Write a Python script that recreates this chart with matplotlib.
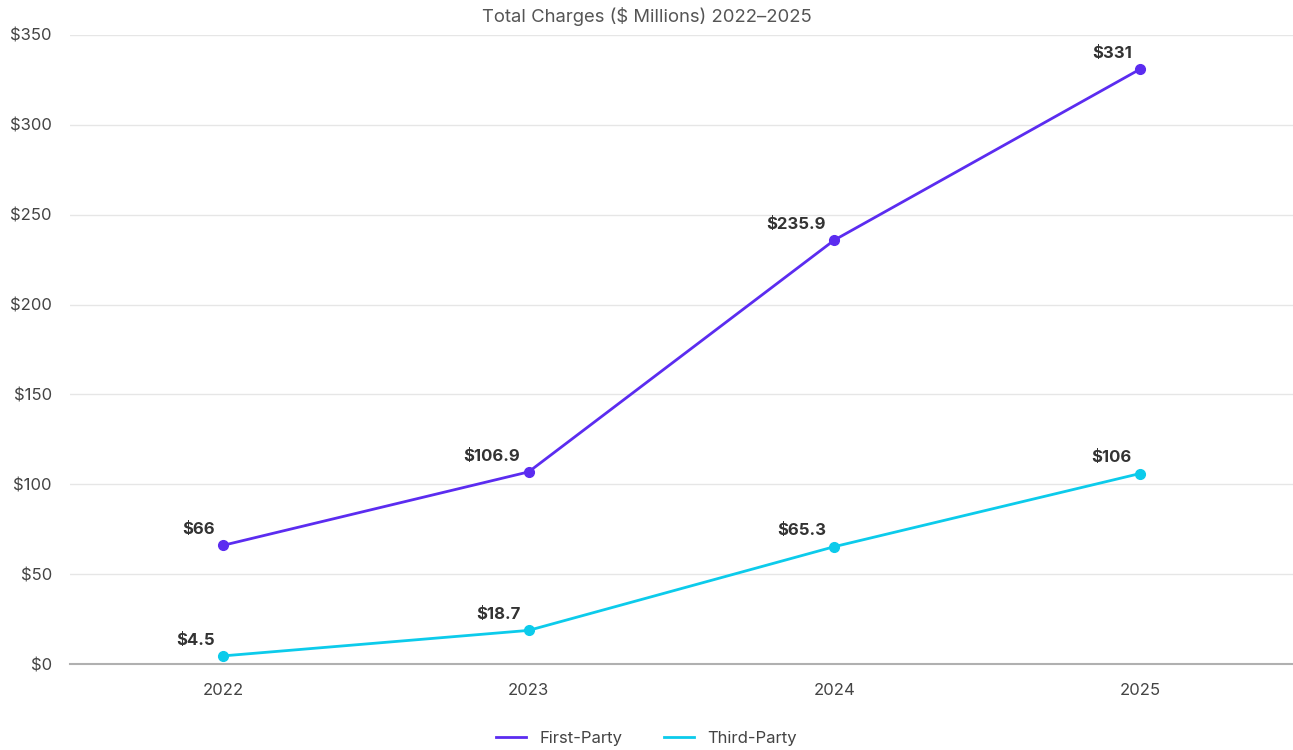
import matplotlib.pyplot as plt
from matplotlib.lines import Line2D
from matplotlib.ticker import FuncFormatter

years = ["2022", "2023", "2024", "2025"]
first_party = [66, 106.9, 235.9, 331]
third_party = [4.5, 18.7, 65.3, 106]
first_labels = ["$66", "$106.9", "$235.9", "$331"]
third_labels = ["$4.5", "$18.7", "$65.3", "$106"]

purple = "#5b2cf0"
cyan = "#0ccbeb"

plt.rcParams['font.family'] = ['Inter', 'DejaVu Sans']

fig = plt.figure(figsize=(12.93, 7.5), dpi=100)
ax = fig.add_axes([70 / 1293, 1 - 664 / 750, 1 - 70 / 1293, (664 - 35) / 750])

x = list(range(len(years)))
ax.plot(x, first_party, color=purple, lw=2, marker="o", ms=7, zorder=3)
ax.plot(x, third_party, color=cyan, lw=2, marker="o", ms=7, zorder=3)

for xi, v, s in zip(x, first_party, first_labels):
    ax.annotate(s, (xi, v), xytext=(-6, 6), textcoords="offset points",
                ha="right", va="bottom", fontsize=12, fontweight="bold", color="#333333")
for xi, v, s in zip(x, third_party, third_labels):
    ax.annotate(s, (xi, v), xytext=(-6, 6), textcoords="offset points",
                ha="right", va="bottom", fontsize=12, fontweight="bold", color="#333333")

ax.set_xlim(-0.5, 3.5)
ax.set_ylim(0, 350)
ax.set_yticks(range(0, 351, 50))
ax.yaxis.set_major_formatter(FuncFormatter(lambda v, p: f"${v:.0f}"))
ax.set_xticks(x)
ax.set_xticklabels(years)
ax.tick_params(axis="both", length=0, labelsize=12, colors="#444444")
ax.tick_params(axis="x", pad=14)
ax.tick_params(axis="y", pad=13)

ax.grid(axis="y", color="#e6e6e6", lw=1)
ax.set_axisbelow(True)
for side in ["top", "right", "left"]:
    ax.spines[side].set_visible(False)
ax.spines["bottom"].set_color("#b0b0b0")
ax.spines["bottom"].set_linewidth(1.5)

fig.text(0.5, 1 - 16 / 750, "Total Charges ($ Millions) 2022\u20132025", ha="center", va="center",
         fontsize=13.3, color="#555555")

# legend shows plain line swatches only
handles = [Line2D([], [], color=purple, lw=2), Line2D([], [], color=cyan, lw=2)]
fig.legend(handles, ["First-Party", "Third-Party"], loc="center",
           bbox_to_anchor=(0.5, 1 - 738 / 750), ncol=2, frameon=False,
           fontsize=12, handlelength=1.8, columnspacing=2.5, labelcolor="#444444")

fig.savefig("out.png", dpi=100)
